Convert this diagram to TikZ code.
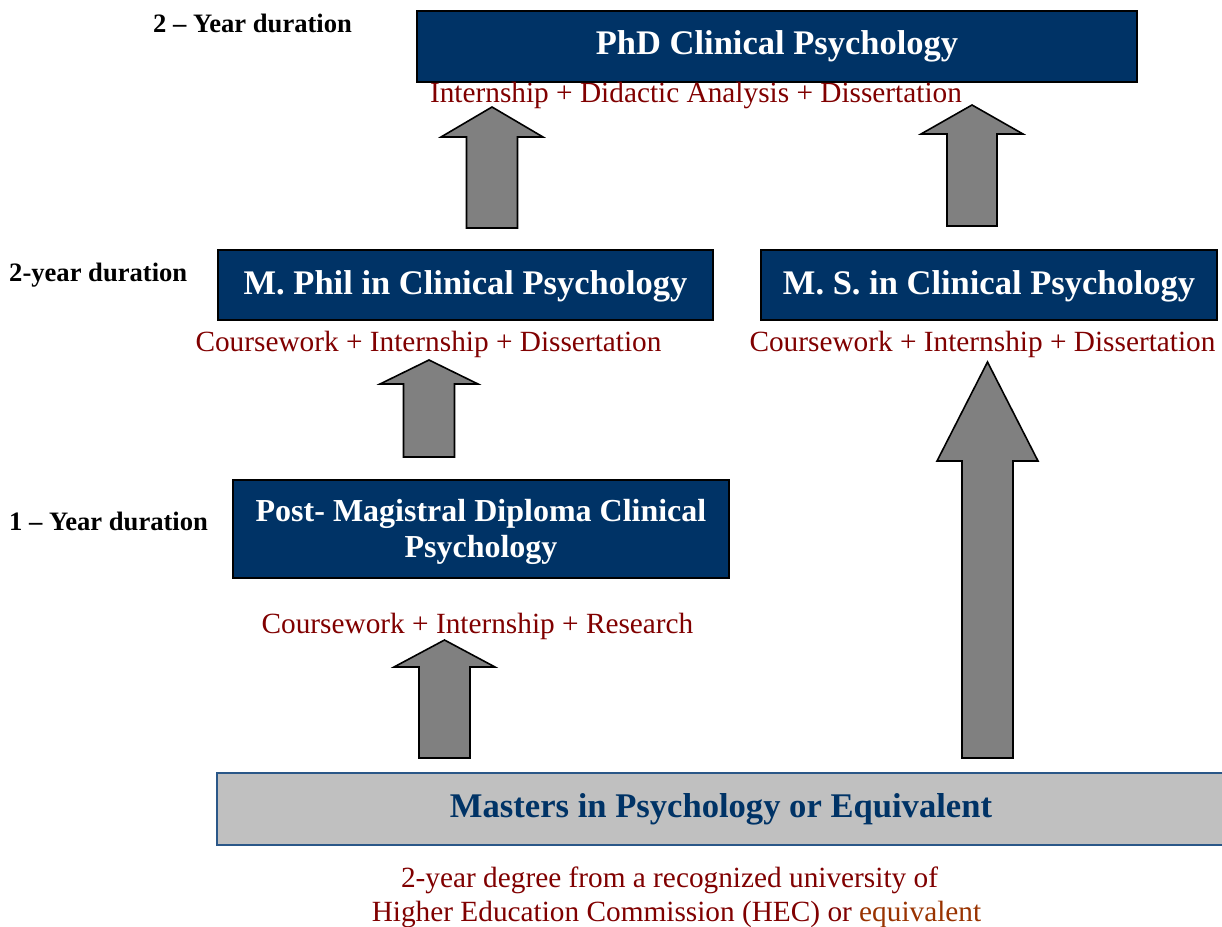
\documentclass[tikz,border=0pt]{standalone}
\usepackage{fontspec}
\setmainfont{Liberation Serif}
\definecolor{navy}{HTML}{003366}
\definecolor{maroon}{RGB}{128,0,0}
\definecolor{brownish}{HTML}{993300}
\definecolor{arrowgray}{HTML}{808080}
\definecolor{lightgray}{HTML}{C0C0C0}
\definecolor{edgeblue}{HTML}{2A5788}
\newcommand{\uparrowshape}[6]{% center x, tip y, base y, bottom y, head half, shaft half
  \draw[blockarrow] (#1,#2) -- (#1+#5,#3) -- (#1+#6,#3) -- (#1+#6,#4) -- (#1-#6,#4) -- (#1-#6,#3) -- (#1-#5,#3) -- cycle;}
\tikzset{
  box/.style={draw=black, line width=2pt, fill=navy, text=white, align=center,
    font=\fontsize{34.5}{38}\selectfont\bfseries, inner sep=0pt},
  sub/.style={text=maroon, inner sep=0pt, font=\fontsize{29.3}{34}\selectfont},
  dur/.style={text=black, inner sep=0pt, anchor=west, font=\fontsize{26.6}{30}\selectfont\bfseries},
  blockarrow/.style={draw=black, line width=1.6pt, fill=arrowgray, line join=miter},
}
\begin{document}
\begin{tikzpicture}[x=1pt,y=-1pt]
\useasboundingbox (0,0) rectangle (1222,926);
% boxes
\node[box, minimum width=720pt, minimum height=71pt] (phd) at (777,46.5) {PhD Clinical Psychology};
\node[box, minimum width=495pt, minimum height=70pt] (mphil) at (465.5,285) {\rule{0pt}{27.5pt}M. Phil in Clinical Psychology};
\node[box, minimum width=456pt, minimum height=70pt] (ms) at (989,285) {\rule{0pt}{27.5pt}M. S. in Clinical Psychology};
\node[box, minimum width=496pt, minimum height=98pt, font=\fontsize{32}{36}\selectfont\bfseries] (pmd) at (481,529) {\begin{tabular}{@{}c@{}}\rule{0pt}{32.5pt}Post- Magistral Diploma Clinical\\Psychology\end{tabular}};
\node[draw=edgeblue, line width=2pt, fill=lightgray, text=navy, inner sep=0pt,
  minimum width=1008pt, minimum height=72pt, font=\fontsize{34.6}{38}\selectfont\bfseries] (mast) at (721,809) {Masters in Psychology or Equivalent};
% subtitles
\node[sub] (phdsub) at (696,95) {Internship + Didactic Analysis + Dissertation};
\node[sub] (mphilsub) at (428.5,344) {Coursework + Internship + Dissertation};
\node[sub] (mssub) at (982.5,344) {Coursework + Internship + Dissertation};
\node[sub] (pmdsub) at (477.5,626) {Coursework + Internship + Research};
\node[sub] (bot1) at (669.5,880) {2-year degree from a recognized university of};
\node[sub] (bot2) at (676.5,914) {Higher Education Commission (HEC) or \textcolor{brownish}{equivalent}};
% durations
\node[dur] (d1) at (153,23) {2 – Year duration};
\node[dur] (d2) at (9,275) {2-year duration};
\node[dur] (d3) at (9,521) {1 – Year duration};
% block arrows
\uparrowshape{492}{107}{137}{228}{51}{25.5}
\uparrowshape{972}{105}{134}{226}{51}{25}
\uparrowshape{429}{360}{384}{457}{49}{25.5}
\uparrowshape{444.5}{640}{667}{758}{50.5}{25.5}
\uparrowshape{987.5}{362}{461}{758}{50.5}{25.5}
\end{tikzpicture}
\end{document}
